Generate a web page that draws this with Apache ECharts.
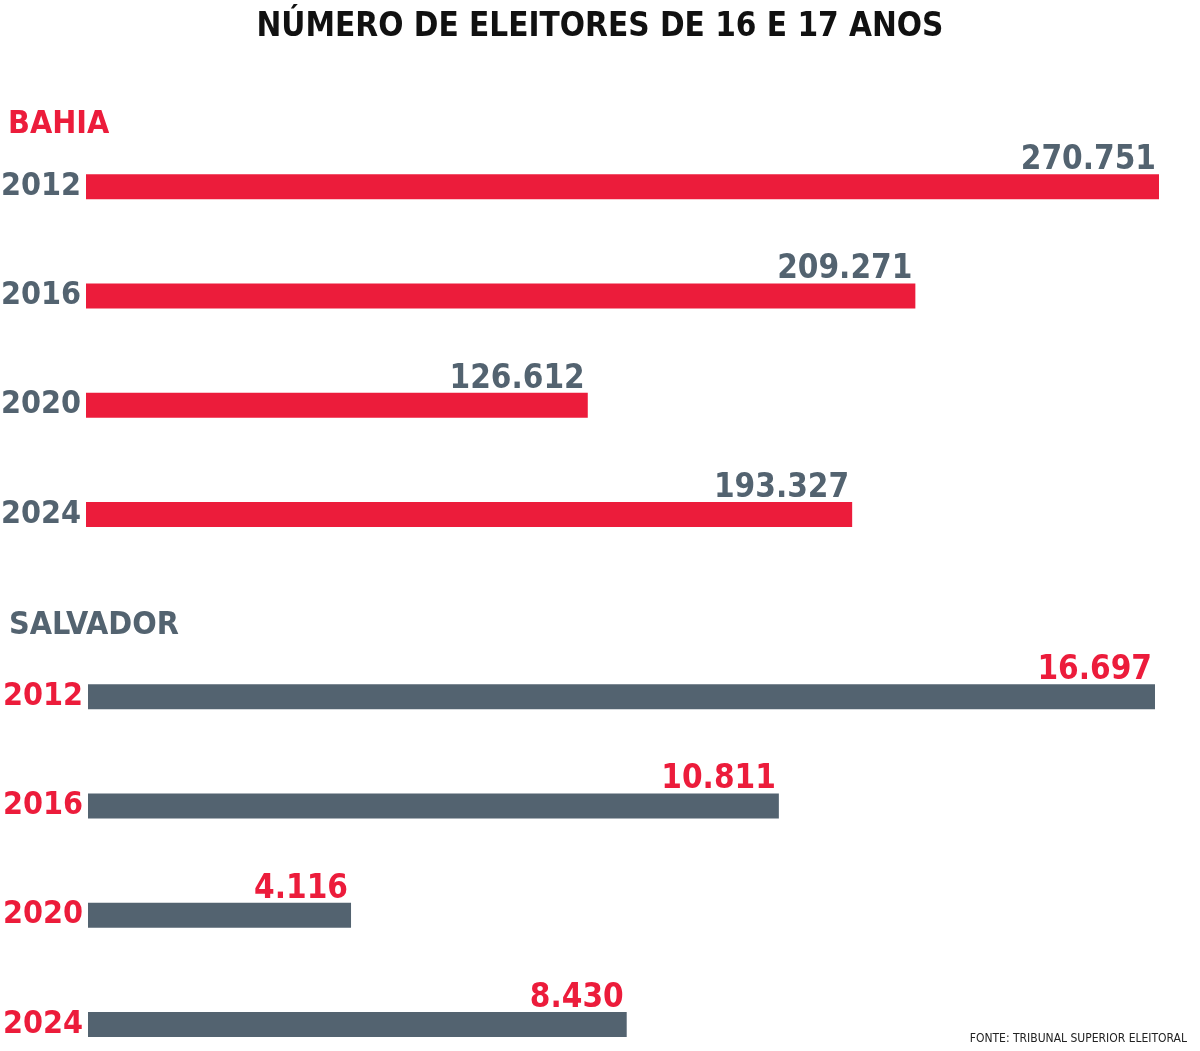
<!DOCTYPE html>
<html>
<head>
<meta charset="utf-8">
<script src="https://cdn.jsdelivr.net/npm/echarts@6/dist/echarts.min.js"></script>
<style>html,body{margin:0;padding:0;background:#fff;}#c{width:1200px;height:1051px;}</style>
</head>
<body>
<div id="c"></div>
<script>
const years = ['2012', '2016', '2020', '2024'];
const bahiaValues = [270751, 209271, 126612, 193327];
const salvadorValues = [16697, 10811, 4116, 8430];

const RED = '#ec1c3b';
const GRAY = '#536370';
const FONT = '"DejaVu Sans Condensed", "Liberation Sans Narrow", sans-serif';

function fmt(v) { return String(v).replace(/\B(?=(\d{3})+(?!\d))/g, '.'); }

const chart = echarts.init(document.getElementById('c'));

function yAxis(gridIndex, color) {
  return {
    type: 'category', gridIndex, data: years, inverse: true,
    axisLine: { show: false }, axisTick: { show: false }, splitLine: { show: false },
    axisLabel: { color, fontFamily: FONT, fontWeight: 'bold', fontSize: 32, margin: 5 }
  };
}
function xAxis(gridIndex, max) {
  return { type: 'value', gridIndex, min: 0, max, show: false, splitLine: { show: false } };
}
function series(idx, data, barColor, labelColor) {
  return {
    type: 'bar', xAxisIndex: idx, yAxisIndex: idx, data, barWidth: 25,
    itemStyle: { color: barColor }, silent: true,
    label: {
      show: true, position: 'insideTopRight', distance: 3, verticalAlign: 'bottom',
      color: labelColor, fontFamily: FONT, fontWeight: 'bold', fontSize: 33,
      formatter: p => fmt(p.value)
    }
  };
}

chart.setOption({
  animation: false,
  backgroundColor: '#fff',
  title: [
    { text: 'NÚMERO DE ELEITORES DE 16 E 17 ANOS', left: 'center', top: 6,
      textStyle: { color: '#111', fontFamily: FONT, fontWeight: 'bold', fontSize: 33 } },
    { text: 'BAHIA', left: 3, top: 104,
      textStyle: { color: RED, fontFamily: FONT, fontWeight: 'bold', fontSize: 32 } },
    { text: 'SALVADOR', left: 4, top: 605,
      textStyle: { color: GRAY, fontFamily: FONT, fontWeight: 'bold', fontSize: 32 } },
    { text: 'FONTE: TRIBUNAL SUPERIOR ELEITORAL', right: 8, top: 1028,
      textStyle: { color: '#222', fontFamily: FONT, fontWeight: 'normal', fontSize: 12 } }
  ],
  grid: [
    { left: 86, right: 41, top: 132, height: 437, outerBoundsMode: 'none', containLabel: false },
    { left: 88, right: 45, top: 642, height: 437, outerBoundsMode: 'none', containLabel: false }
  ],
  xAxis: [xAxis(0, bahiaValues[0]), xAxis(1, salvadorValues[0])],
  yAxis: [yAxis(0, GRAY), yAxis(1, RED)],
  series: [series(0, bahiaValues, RED, GRAY), series(1, salvadorValues, GRAY, RED)]
});
</script>
</body>
</html>
